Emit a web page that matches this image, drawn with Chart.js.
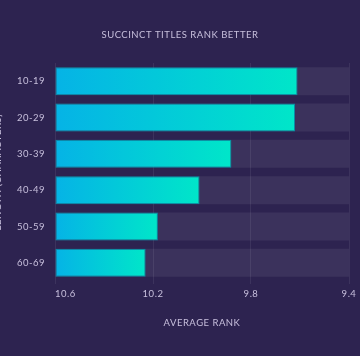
<!DOCTYPE html>
<html>
<head>
<meta charset="utf-8">
<script src="https://cdn.jsdelivr.net/npm/chart.js@4/dist/chart.umd.min.js"></script>
<style>
html,body{margin:0;padding:0;background:#2d2350;}
#wrap{position:relative;width:360px;height:356px;}
</style>
</head>
<body>
<div id="wrap"><canvas id="c" width="360" height="356"></canvas></div>
<script>
const chartTitle = 'SUCCINCT TITLES RANK BETTER';
const xTitle = 'AVERAGE RANK';
const yTitle = 'LENGTH (CHARACTERS)';
const categories = ['10-19','20-29','30-39','40-49','50-59','60-69'];
const averageRank = [9.61, 9.62, 9.88, 10.01, 10.18, 10.23];
const xTicks = [10.6, 10.2, 9.8, 9.4];
const rankWorst = 10.6;
const rankBest = 9.4;

const TEXT = '#c7bfdc';
const FONT = 'Lato, "Open Sans", sans-serif';

function barGradient(ctx){
  const chart = ctx.chart;
  if(!chart.chartArea || !chart.scales.x) return '#00c8dc';
  const x = chart.scales.x;
  const x0 = x.getPixelForValue(rankWorst);
  const x1 = x.getPixelForValue(ctx.raw);
  const g = chart.ctx.createLinearGradient(x0,0,x1,0);
  g.addColorStop(0,'#05b3e6');
  g.addColorStop(1,'#00e6c9');
  return g;
}

const textPlugin = {
  id:'textPlugin',
  beforeDraw(chart){
    chart.ctx.letterSpacing = '0.5px';
  },
  afterDraw(chart){
    const c = chart.ctx;
    const x = chart.scales.x, area = chart.chartArea;
    c.save();
    c.fillStyle = TEXT;
    c.letterSpacing = '0.5px';
    c.font = '9.5px ' + FONT;
    c.textAlign = 'center';
    c.textBaseline = 'middle';
    c.fillText(chartTitle, 180, 35);
    c.fillText(xTitle, (area.left+area.right)/2, 323);
    // x tick labels
    c.letterSpacing = '0.5px';
    xTicks.forEach((v,i)=>{
      const px = x.getPixelForValue(v);
      c.textAlign = i===0 ? 'left' : 'center';
      c.fillText(v.toFixed(1), px, 294);
    });
    // y title, mostly cut off at the left edge
    c.translate(-2.2,(area.top+area.bottom)/2);
    c.rotate(-Math.PI/2);
    c.letterSpacing = '0.6px';
    c.textAlign = 'center';
    c.fillText(yTitle, 0, 0);
    c.restore();
  }
};

new Chart(document.getElementById('c'), {
  type:'bar',
  data:{
    labels: categories,
    datasets:[
      {
        data: averageRank,
        base: rankWorst,
        backgroundColor: barGradient,
        borderColor: 'rgba(0,150,175,0.9)',
        borderWidth: 1,
        borderSkipped: false,
        barPercentage: 0.77,
        categoryPercentage: 1,
        grouped: false
      },
      {
        data: categories.map(()=>rankBest),
        base: rankWorst,
        backgroundColor: 'rgba(255,255,255,0.07)',
        borderWidth: 0,
        barPercentage: 0.77,
        categoryPercentage: 1,
        grouped: false
      }
    ]
  },
  options:{
    indexAxis:'y',
    responsive:false,
    animation:false,
    layout:{padding:{top:63,right:11,left:0,bottom:0}},
    plugins:{legend:{display:false},title:{display:false},tooltip:{enabled:false}},
    scales:{
      x:{
        type:'linear',
        min: rankBest,
        max: rankWorst,
        reverse:true,
        afterBuildTicks(s){ s.ticks = xTicks.map(v=>({value:v})); },
        afterFit(s){ s.height = 75; },
        grid:{color:'rgba(255,255,255,0.075)', lineWidth:1, drawTicks:true, tickLength:3},
        border:{display:false},
        ticks:{display:false}
      },
      y:{
        afterFit(s){ s.width = 55; },
        grid:{display:false, drawTicks:false},
        border:{display:false},
        ticks:{color:TEXT, padding:10, font:{family:FONT, size:9.5}}
      }
    }
  },
  plugins:[textPlugin]
});
</script>
</body>
</html>
